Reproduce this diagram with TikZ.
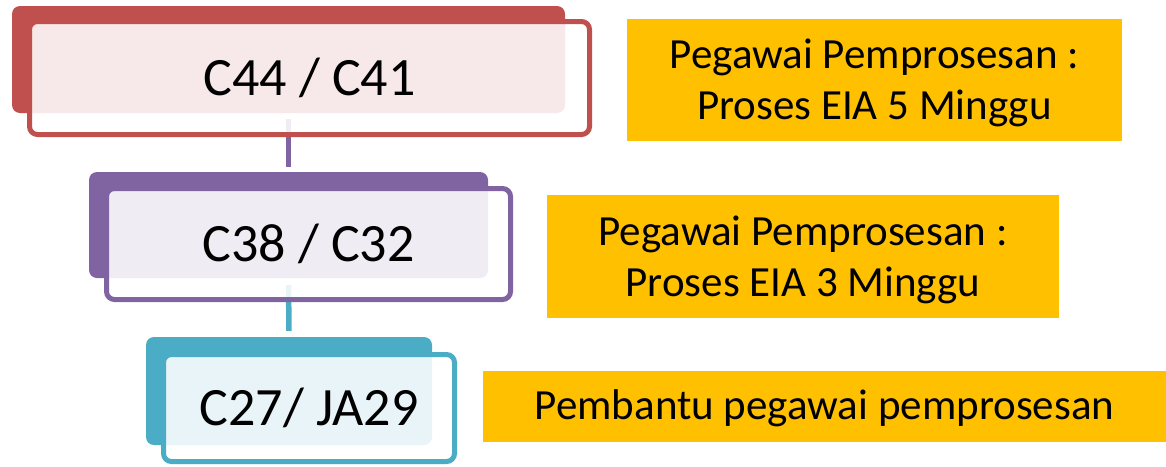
\documentclass[tikz,border=0pt]{standalone}
\usepackage{fontspec}
\setmainfont{Carlito}
\definecolor{cred}{HTML}{C0504D}
\definecolor{cpurple}{HTML}{8064A2}
\definecolor{cteal}{HTML}{4BACC6}
\definecolor{corange}{HTML}{FFC000}
\tikzset{
  back/.style={rectangle, rounded corners=8pt, fill=#1, draw=none, inner sep=0pt},
  frontbox/.style={rectangle, rounded corners=8pt, draw=#1, line width=5pt, fill=white, fill opacity=0.88, text opacity=1, inner sep=0pt, font=\fontsize{54}{60}\selectfont},
  link/.style={draw=#1, line width=5.5pt},
  note/.style={rectangle, fill=corange, draw=none, inner sep=0pt},
  notetext/.style={inner sep=0pt, align=center, font=\fontsize{43}{51}\selectfont}
}
\begin{document}
\begin{tikzpicture}[x=1pt,y=-1pt]
\useasboundingbox (0,0) rectangle (1166,466);
% level 1
\node[back=cred, minimum width=553pt, minimum height=107pt] (d1) at (288.5,59.5) {};
\node[back=cpurple, minimum width=399pt, minimum height=106pt] (d2) at (288.5,225) {};
\draw[link=cpurple, shorten <=6pt, shorten >=5pt] (d1.south) -- (d2.north);
\node[frontbox=cred, minimum width=560pt, minimum height=113pt] (o1) at (309.5,78) {C44 / C41};
% level 2
\node[back=cteal, minimum width=286pt, minimum height=108pt] (d3) at (289,391) {};
\draw[link=cteal, shorten <=7pt, shorten >=6pt] (d2.south) -- (d3.north);
\node[frontbox=cpurple, minimum width=404pt, minimum height=111pt] (o2) at (308.5,244) {C38 / C32};
% level 3
\node[frontbox=cteal, minimum width=291pt, minimum height=107pt] (o3) at (309,408) {C27/ JA29};
% notes
\node[note, minimum width=495pt, minimum height=122pt] (n1) at (874.5,80) {};
\node[notetext] (t1) at ([yshift=-3pt]n1.center) {Pegawai Pemprosesan :\\Proses EIA 5 Minggu};
\node[note, minimum width=512pt, minimum height=123pt] (n2) at (803,256.5) {};
\node[notetext] (t2) at ([yshift=-3pt]n2.center) {Pegawai Pemprosesan :\\Proses EIA 3 Minggu};
\node[note, minimum width=683pt, minimum height=71pt] (n3) at (824.5,406.5) {};
\node[notetext] (t3) at ([yshift=-2pt]n3.center) {Pembantu pegawai pemprosesan};
\end{tikzpicture}
\end{document}
